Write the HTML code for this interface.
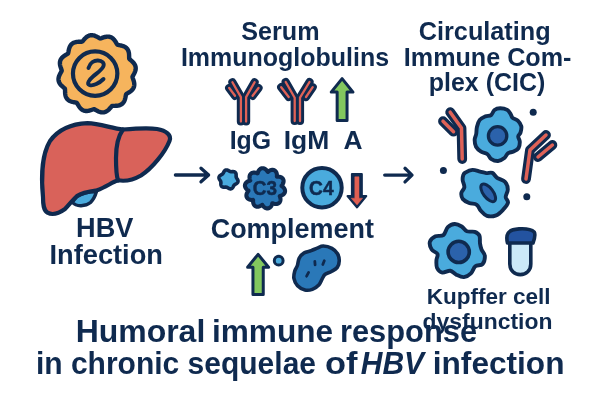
<!DOCTYPE html><html><head><meta charset="utf-8"><style>html,body{margin:0;padding:0;background:#fff;width:600px;height:400px;overflow:hidden}svg{display:block;will-change:transform}text{font-family:"Liberation Sans",sans-serif;font-weight:bold}</style></head><body>
<svg width="600" height="400" viewBox="0 0 600 400">
<rect width="600" height="400" fill="#fff"/>
<path d="M134.06,73.8 L133.71,74.44 L133.36,75.07 L133.02,75.68 L132.7,76.29 L132.46,76.89 L132.6,77.53 L132.8,78.18 L133.03,78.85 L133.27,79.53 L133.5,80.22 L133.72,80.92 L133.91,81.62 L134.07,82.34 L134.2,83.05 L134.27,83.76 L134.3,84.47 L134.27,85.17 L134.19,85.85 L134.05,86.52 L133.84,87.17 L133.58,87.8 L133.26,88.41 L132.88,88.99 L132.45,89.54 L131.98,90.06 L131.46,90.56 L130.91,91.03 L130.33,91.47 L129.73,91.89 L129.11,92.28 L128.49,92.66 L127.87,93.03 L127.26,93.39 L126.69,93.76 L126.18,94.16 L125.97,94.78 L125.82,95.45 L125.69,96.14 L125.56,96.84 L125.41,97.56 L125.25,98.27 L125.07,98.98 L124.85,99.68 L124.6,100.36 L124.31,101.01 L123.98,101.64 L123.61,102.23 L123.19,102.78 L122.74,103.29 L122.23,103.75 L121.69,104.17 L121.11,104.53 L120.49,104.85 L119.85,105.11 L119.17,105.33 L118.48,105.5 L117.77,105.63 L117.04,105.72 L116.31,105.78 L115.58,105.81 L114.85,105.83 L114.13,105.84 L113.43,105.85 L112.75,105.88 L112.1,105.97 L111.62,106.41 L111.15,106.91 L110.69,107.44 L110.22,107.99 L109.74,108.53 L109.25,109.07 L108.73,109.59 L108.19,110.09 L107.64,110.55 L107.06,110.97 L106.46,111.35 L105.84,111.68 L105.21,111.95 L104.56,112.16 L103.89,112.31 L103.21,112.39 L102.53,112.42 L101.84,112.38 L101.15,112.29 L100.45,112.14 L99.77,111.94 L99.09,111.7 L98.41,111.41 L97.75,111.1 L97.1,110.76 L96.46,110.41 L95.83,110.06 L95.22,109.72 L94.61,109.4 L94.01,109.16 L93.37,109.3 L92.72,109.5 L92.05,109.73 L91.37,109.97 L90.68,110.2 L89.98,110.42 L89.28,110.61 L88.56,110.77 L87.85,110.9 L87.14,110.97 L86.43,111 L85.73,110.97 L85.05,110.89 L84.38,110.75 L83.73,110.54 L83.1,110.28 L82.49,109.96 L81.91,109.58 L81.36,109.15 L80.84,108.68 L80.34,108.16 L79.87,107.61 L79.43,107.03 L79.01,106.43 L78.62,105.81 L78.24,105.19 L77.87,104.57 L77.51,103.96 L77.14,103.39 L76.74,102.88 L76.12,102.67 L75.45,102.52 L74.76,102.39 L74.06,102.26 L73.34,102.11 L72.63,101.95 L71.92,101.77 L71.22,101.55 L70.54,101.3 L69.89,101.01 L69.26,100.68 L68.67,100.31 L68.12,99.89 L67.61,99.44 L67.15,98.93 L66.73,98.39 L66.37,97.81 L66.05,97.19 L65.79,96.55 L65.57,95.87 L65.4,95.18 L65.27,94.47 L65.18,93.74 L65.12,93.01 L65.09,92.28 L65.07,91.55 L65.06,90.83 L65.05,90.13 L65.02,89.45 L64.93,88.8 L64.49,88.32 L63.99,87.85 L63.46,87.39 L62.91,86.92 L62.37,86.44 L61.83,85.95 L61.31,85.43 L60.81,84.89 L60.35,84.34 L59.93,83.76 L59.55,83.16 L59.22,82.54 L58.95,81.91 L58.74,81.26 L58.59,80.59 L58.51,79.91 L58.48,79.23 L58.52,78.54 L58.61,77.85 L58.76,77.15 L58.96,76.47 L59.2,75.79 L59.49,75.11 L59.8,74.45 L60.14,73.8 L60.49,73.16 L60.84,72.53 L61.18,71.92 L61.5,71.31 L61.74,70.71 L61.6,70.07 L61.4,69.42 L61.17,68.75 L60.93,68.07 L60.7,67.38 L60.48,66.68 L60.29,65.98 L60.13,65.26 L60,64.55 L59.93,63.84 L59.9,63.13 L59.93,62.43 L60.01,61.75 L60.15,61.08 L60.36,60.43 L60.62,59.8 L60.94,59.19 L61.32,58.61 L61.75,58.06 L62.22,57.54 L62.74,57.04 L63.29,56.57 L63.87,56.13 L64.47,55.71 L65.09,55.32 L65.71,54.94 L66.33,54.57 L66.94,54.21 L67.51,53.84 L68.02,53.44 L68.23,52.82 L68.38,52.15 L68.51,51.46 L68.64,50.76 L68.79,50.04 L68.95,49.33 L69.13,48.62 L69.35,47.92 L69.6,47.24 L69.89,46.59 L70.22,45.96 L70.59,45.37 L71.01,44.82 L71.46,44.31 L71.97,43.85 L72.51,43.43 L73.09,43.07 L73.71,42.75 L74.35,42.49 L75.03,42.27 L75.72,42.1 L76.43,41.97 L77.16,41.88 L77.89,41.82 L78.62,41.79 L79.35,41.77 L80.07,41.76 L80.77,41.75 L81.45,41.72 L82.1,41.63 L82.58,41.19 L83.05,40.69 L83.51,40.16 L83.98,39.61 L84.46,39.07 L84.95,38.53 L85.47,38.01 L86.01,37.51 L86.56,37.05 L87.14,36.63 L87.74,36.25 L88.36,35.92 L88.99,35.65 L89.64,35.44 L90.31,35.29 L90.99,35.21 L91.67,35.18 L92.36,35.22 L93.05,35.31 L93.75,35.46 L94.43,35.66 L95.11,35.9 L95.79,36.19 L96.45,36.5 L97.1,36.84 L97.74,37.19 L98.37,37.54 L98.98,37.88 L99.59,38.2 L100.19,38.44 L100.83,38.3 L101.48,38.1 L102.15,37.87 L102.83,37.63 L103.52,37.4 L104.22,37.18 L104.92,36.99 L105.64,36.83 L106.35,36.7 L107.06,36.63 L107.77,36.6 L108.47,36.63 L109.15,36.71 L109.82,36.85 L110.47,37.06 L111.1,37.32 L111.71,37.64 L112.29,38.02 L112.84,38.45 L113.36,38.92 L113.86,39.44 L114.33,39.99 L114.77,40.57 L115.19,41.17 L115.58,41.79 L115.96,42.41 L116.33,43.03 L116.69,43.64 L117.06,44.21 L117.46,44.72 L118.08,44.93 L118.75,45.08 L119.44,45.21 L120.14,45.34 L120.86,45.49 L121.57,45.65 L122.28,45.83 L122.98,46.05 L123.66,46.3 L124.31,46.59 L124.94,46.92 L125.53,47.29 L126.08,47.71 L126.59,48.16 L127.05,48.67 L127.47,49.21 L127.83,49.79 L128.15,50.41 L128.41,51.05 L128.63,51.73 L128.8,52.42 L128.93,53.13 L129.02,53.86 L129.08,54.59 L129.11,55.32 L129.13,56.05 L129.14,56.77 L129.15,57.47 L129.18,58.15 L129.27,58.8 L129.71,59.28 L130.21,59.75 L130.74,60.21 L131.29,60.68 L131.83,61.16 L132.37,61.65 L132.89,62.17 L133.39,62.71 L133.85,63.26 L134.27,63.84 L134.65,64.44 L134.98,65.06 L135.25,65.69 L135.46,66.34 L135.61,67.01 L135.69,67.69 L135.72,68.37 L135.68,69.06 L135.59,69.75 L135.44,70.45 L135.24,71.13 L135,71.81 L134.71,72.49 L134.4,73.15Z" fill="#f6b45d" stroke="#0f2a4f" stroke-width="4.4" stroke-linejoin="round"/>
<circle cx="95.15" cy="73.6" r="22.2" fill="none" stroke="#0f2a4f" stroke-width="4.2"/>
<path d="M88.5,68 C90,62.5 94.5,60.3 98,60.5 C102,60.7 104.5,63 103.5,66 C102.5,69.5 97,73 93,76.5 C89,80 86.5,83.5 89.5,85 C93,86.5 99.5,83 103.5,79" fill="none" stroke="#0f2a4f" stroke-width="3.9" stroke-linecap="round" stroke-linejoin="round"/>
<path d="M72.5,202.5 C76,206.5 85,207 90.5,202.5 C93.5,199.5 95.5,195 96.5,191.5 C90,191.5 82,193 77,196.5 C75,198.5 73.5,200.5 72.5,202.5Z" fill="#4aabdd" stroke="#0f2a4f" stroke-width="3.4" stroke-linejoin="round"/>
<path d="M87.5,123.2 C100,123.5 112,128.5 123,129.5 C135,128.5 148,127.5 157,129 C166,130.5 172,135 169.5,141 C165,152.5 152,168.5 141,175.5 C134,179.5 125,181.5 118,180.3 C112,182.3 106,187 97,190.3 C90,191.3 82,192.5 77,196 C73,199.5 70,204 65,209 C59,213.3 52,215.2 47.5,212.7 C43.5,210.2 43,204.5 43,197 C41.5,182 41,156 50,141 C58,130 70,124 87.5,123.2Z" fill="#d9625a" stroke="#0f2a4f" stroke-width="4.2" stroke-linejoin="round"/>
<path d="M123,129.5 C117.5,137 116,147 116,158 C116,168 116.5,176 118,180.5" fill="none" stroke="#0f2a4f" stroke-width="4.2" stroke-linecap="round"/>
<path d="M175.4,175 H208.6 M201,168.2 L208.6,175 L201,181.8" fill="none" stroke="#0f2a4f" stroke-width="3.3" stroke-linecap="round" stroke-linejoin="round"/>
<path d="M384.7,175.1 H412 M405,168.3 L412,175.1 L405,181.9" fill="none" stroke="#0f2a4f" stroke-width="3.3" stroke-linecap="round" stroke-linejoin="round"/>
<polyline points="240.9,121.5 240.9,97.1 232.4,82.2" fill="none" stroke="#0f2a4f" stroke-width="8.2" stroke-linecap="round" stroke-linejoin="round"/><polyline points="246.1,121.5 246.1,97.1 254.6,82.2" fill="none" stroke="#0f2a4f" stroke-width="8.2" stroke-linecap="round" stroke-linejoin="round"/><polyline points="229.2,88 235,95.8" fill="none" stroke="#0f2a4f" stroke-width="8.2" stroke-linecap="round" stroke-linejoin="round"/><polyline points="258.5,88 252.6,95.8" fill="none" stroke="#0f2a4f" stroke-width="8.2" stroke-linecap="round" stroke-linejoin="round"/><polyline points="240.9,121.5 240.9,97.1 232.4,82.2" fill="none" stroke="#df6257" stroke-width="2.3" stroke-linecap="round" stroke-linejoin="round"/><polyline points="246.1,121.5 246.1,97.1 254.6,82.2" fill="none" stroke="#df6257" stroke-width="2.3" stroke-linecap="round" stroke-linejoin="round"/><polyline points="229.2,88 235,95.8" fill="none" stroke="#df6257" stroke-width="2.3" stroke-linecap="round" stroke-linejoin="round"/><polyline points="258.5,88 252.6,95.8" fill="none" stroke="#df6257" stroke-width="2.3" stroke-linecap="round" stroke-linejoin="round"/>
<polyline points="294.7,121 294.7,97.7 285.7,82" fill="none" stroke="#0f2a4f" stroke-width="8.2" stroke-linecap="round" stroke-linejoin="round"/><polyline points="300,121 300,97.7 309.5,82" fill="none" stroke="#0f2a4f" stroke-width="8.2" stroke-linecap="round" stroke-linejoin="round"/><polyline points="281.2,87.2 288.7,97" fill="none" stroke="#0f2a4f" stroke-width="8.2" stroke-linecap="round" stroke-linejoin="round"/><polyline points="312.7,87.2 306,97" fill="none" stroke="#0f2a4f" stroke-width="8.2" stroke-linecap="round" stroke-linejoin="round"/><polyline points="294.7,121 294.7,97.7 285.7,82" fill="none" stroke="#df6257" stroke-width="2.3" stroke-linecap="round" stroke-linejoin="round"/><polyline points="300,121 300,97.7 309.5,82" fill="none" stroke="#df6257" stroke-width="2.3" stroke-linecap="round" stroke-linejoin="round"/><polyline points="281.2,87.2 288.7,97" fill="none" stroke="#df6257" stroke-width="2.3" stroke-linecap="round" stroke-linejoin="round"/><polyline points="312.7,87.2 306,97" fill="none" stroke="#df6257" stroke-width="2.3" stroke-linecap="round" stroke-linejoin="round"/>
<polyline points="450.2,112.2 461.5,128 462.2,159" fill="none" stroke="#0f2a4f" stroke-width="9.8" stroke-linecap="round" stroke-linejoin="round"/><polyline points="443,121.2 453.5,131.7" fill="none" stroke="#0f2a4f" stroke-width="9.8" stroke-linecap="round" stroke-linejoin="round"/><polyline points="450.2,112.2 461.5,128 462.2,159" fill="none" stroke="#df6257" stroke-width="3.5" stroke-linecap="round" stroke-linejoin="round"/><polyline points="443,121.2 453.5,131.7" fill="none" stroke="#df6257" stroke-width="3.5" stroke-linecap="round" stroke-linejoin="round"/>
<polyline points="546,135 530,150 526,179" fill="none" stroke="#0f2a4f" stroke-width="9.8" stroke-linecap="round" stroke-linejoin="round"/><polyline points="552.4,145 538,157" fill="none" stroke="#0f2a4f" stroke-width="9.8" stroke-linecap="round" stroke-linejoin="round"/><polyline points="546,135 530,150 526,179" fill="none" stroke="#df6257" stroke-width="3.5" stroke-linecap="round" stroke-linejoin="round"/><polyline points="552.4,145 538,157" fill="none" stroke="#df6257" stroke-width="3.5" stroke-linecap="round" stroke-linejoin="round"/>
<path d="M342.1,78.6 L353,92.1 L347.05,92.1 L347.05,120.4 L337.15,120.4 L337.15,92.1 L331.2,92.1Z" fill="#82c75e" stroke="#0f2a4f" stroke-width="3" stroke-linejoin="round"/>
<path d="M258.1,254.4 L268.6,267.3 L263.25,267.3 L263.25,294.6 L252.95,294.6 L252.95,267.3 L247.6,267.3Z" fill="#82c75e" stroke="#0f2a4f" stroke-width="3" stroke-linejoin="round"/>
<path d="M352,174 L361.75,174 L361.75,196 L366.2,196 L357,207.4 L347.6,196 L352,196 Z" fill="#0f2a4f" stroke="#0f2a4f" stroke-width="2.2" stroke-linejoin="round"/>
<path d="M354.8,176.8 L359,176.8 L359,198.2 L362.6,198.2 L357.05,204.9 L351.2,198.2 L354.8,198.2 Z" fill="#df5f52" stroke="#df5f52" stroke-width="0.5" stroke-linejoin="round"/>
<path d="M237.49,179.4 L237.66,179.72 L237.8,180.05 L237.92,180.39 L237.99,180.73 L238.03,181.08 L238.02,181.42 L237.96,181.76 L237.85,182.08 L237.7,182.39 L237.51,182.68 L237.28,182.95 L237.02,183.19 L236.74,183.42 L236.44,183.62 L236.13,183.81 L235.82,183.98 L235.53,184.14 L235.24,184.3 L234.97,184.46 L234.72,184.62 L234.5,184.8 L234.29,184.99 L234.1,185.2 L233.94,185.44 L233.78,185.69 L233.63,185.97 L233.48,186.26 L233.33,186.56 L233.17,186.87 L232.99,187.18 L232.8,187.49 L232.59,187.78 L232.35,188.05 L232.09,188.29 L231.81,188.49 L231.51,188.66 L231.19,188.77 L230.85,188.84 L230.51,188.87 L230.16,188.84 L229.82,188.78 L229.47,188.67 L229.14,188.54 L228.81,188.38 L228.5,188.21 L228.2,188.03 L227.91,187.85 L227.63,187.69 L227.36,187.53 L227.09,187.4 L226.82,187.29 L226.55,187.21 L226.28,187.16 L225.99,187.13 L225.69,187.12 L225.38,187.12 L225.05,187.14 L224.71,187.16 L224.36,187.18 L224.01,187.18 L223.64,187.17 L223.29,187.13 L222.93,187.06 L222.6,186.96 L222.28,186.81 L221.99,186.63 L221.73,186.41 L221.5,186.16 L221.31,185.87 L221.16,185.56 L221.04,185.23 L220.96,184.88 L220.9,184.52 L220.88,184.16 L220.87,183.81 L220.87,183.45 L220.88,183.12 L220.89,182.79 L220.89,182.48 L220.87,182.18 L220.83,181.89 L220.76,181.62 L220.67,181.35 L220.55,181.09 L220.41,180.83 L220.25,180.56 L220.07,180.29 L219.88,180 L219.69,179.71 L219.51,179.4 L219.34,179.08 L219.2,178.75 L219.08,178.41 L219.01,178.07 L218.97,177.72 L218.98,177.38 L219.04,177.04 L219.15,176.72 L219.3,176.41 L219.49,176.12 L219.72,175.85 L219.98,175.61 L220.26,175.38 L220.56,175.18 L220.87,174.99 L221.18,174.82 L221.47,174.66 L221.76,174.5 L222.03,174.34 L222.28,174.18 L222.5,174 L222.71,173.81 L222.9,173.6 L223.06,173.36 L223.22,173.11 L223.37,172.83 L223.52,172.54 L223.67,172.24 L223.83,171.93 L224.01,171.62 L224.2,171.31 L224.41,171.02 L224.65,170.75 L224.91,170.51 L225.19,170.31 L225.49,170.14 L225.81,170.03 L226.15,169.96 L226.49,169.93 L226.84,169.96 L227.18,170.02 L227.53,170.13 L227.86,170.26 L228.19,170.42 L228.5,170.59 L228.8,170.77 L229.09,170.95 L229.37,171.11 L229.64,171.27 L229.91,171.4 L230.18,171.51 L230.45,171.59 L230.72,171.64 L231.01,171.67 L231.31,171.68 L231.62,171.68 L231.95,171.66 L232.29,171.64 L232.64,171.62 L232.99,171.62 L233.36,171.63 L233.71,171.67 L234.07,171.74 L234.4,171.84 L234.72,171.99 L235.01,172.17 L235.27,172.39 L235.5,172.64 L235.69,172.93 L235.84,173.24 L235.96,173.57 L236.04,173.92 L236.1,174.28 L236.12,174.64 L236.13,174.99 L236.13,175.35 L236.12,175.68 L236.11,176.01 L236.11,176.32 L236.13,176.62 L236.17,176.91 L236.24,177.18 L236.33,177.45 L236.45,177.71 L236.59,177.97 L236.75,178.24 L236.93,178.51 L237.12,178.8 L237.31,179.09Z" fill="#4aabdd" stroke="#0f2a4f" stroke-width="3.6" stroke-linejoin="round"/>
<path d="M284.15,188.3 L284.36,188.64 L284.55,188.98 L284.72,189.33 L284.85,189.69 L284.95,190.05 L285.02,190.4 L285.06,190.76 L285.07,191.12 L285.05,191.47 L284.99,191.82 L284.9,192.17 L284.78,192.51 L284.63,192.83 L284.45,193.15 L284.25,193.46 L284.01,193.75 L283.75,194.03 L283.46,194.3 L283.15,194.55 L282.81,194.78 L282.46,195 L282.08,195.2 L281.69,195.38 L281.28,195.55 L280.85,195.69 L280.41,195.82 L279.94,195.91 L279.73,196.13 L279.93,196.58 L280.09,197.01 L280.22,197.45 L280.32,197.88 L280.4,198.3 L280.46,198.73 L280.49,199.14 L280.49,199.55 L280.47,199.96 L280.42,200.35 L280.34,200.72 L280.24,201.09 L280.11,201.44 L279.96,201.77 L279.78,202.08 L279.58,202.38 L279.35,202.65 L279.1,202.9 L278.83,203.13 L278.53,203.33 L278.22,203.51 L277.89,203.66 L277.54,203.78 L277.18,203.88 L276.8,203.96 L276.41,204 L276.01,204.02 L275.6,204.02 L275.18,203.98 L274.76,203.92 L274.34,203.84 L273.91,203.73 L273.48,203.6 L273.05,203.44 L272.61,203.24 L272.31,203.3 L272.21,203.77 L272.09,204.22 L271.94,204.64 L271.77,205.05 L271.58,205.45 L271.38,205.82 L271.16,206.18 L270.92,206.51 L270.66,206.82 L270.39,207.11 L270.11,207.37 L269.81,207.61 L269.51,207.81 L269.19,207.99 L268.86,208.14 L268.52,208.26 L268.17,208.35 L267.82,208.4 L267.47,208.42 L267.11,208.41 L266.76,208.37 L266.4,208.3 L266.04,208.2 L265.69,208.06 L265.34,207.9 L265,207.71 L264.67,207.49 L264.34,207.24 L264.02,206.97 L263.71,206.68 L263.42,206.36 L263.14,206.02 L262.87,205.66 L262.61,205.28 L262.38,204.86 L262.1,204.73 L261.74,205.06 L261.38,205.34 L261.01,205.6 L260.63,205.83 L260.25,206.04 L259.86,206.22 L259.47,206.38 L259.08,206.51 L258.69,206.61 L258.31,206.69 L257.92,206.73 L257.55,206.75 L257.17,206.73 L256.81,206.69 L256.46,206.62 L256.12,206.52 L255.79,206.38 L255.47,206.22 L255.17,206.03 L254.89,205.82 L254.62,205.57 L254.38,205.3 L254.15,205.01 L253.94,204.7 L253.76,204.36 L253.59,204 L253.45,203.63 L253.33,203.24 L253.23,202.83 L253.16,202.41 L253.1,201.98 L253.08,201.54 L253.07,201.09 L253.09,200.63 L253.14,200.16 L253,199.89 L252.51,199.94 L252.05,199.96 L251.6,199.95 L251.16,199.92 L250.73,199.86 L250.31,199.78 L249.9,199.68 L249.51,199.55 L249.14,199.41 L248.78,199.24 L248.44,199.05 L248.13,198.84 L247.83,198.61 L247.57,198.37 L247.32,198.1 L247.11,197.81 L246.92,197.51 L246.76,197.2 L246.63,196.87 L246.52,196.53 L246.45,196.17 L246.41,195.81 L246.4,195.44 L246.42,195.06 L246.46,194.68 L246.54,194.3 L246.65,193.91 L246.78,193.52 L246.94,193.14 L247.12,192.76 L247.33,192.38 L247.57,192.01 L247.83,191.64 L248.12,191.28 L248.44,190.92 L248.48,190.62 L248.06,190.38 L247.67,190.12 L247.31,189.85 L246.97,189.56 L246.66,189.26 L246.37,188.95 L246.1,188.63 L245.85,188.3 L245.64,187.96 L245.45,187.62 L245.28,187.27 L245.15,186.91 L245.05,186.55 L244.98,186.2 L244.94,185.84 L244.93,185.48 L244.95,185.13 L245.01,184.78 L245.1,184.43 L245.22,184.09 L245.37,183.77 L245.55,183.45 L245.75,183.14 L245.99,182.85 L246.25,182.57 L246.54,182.3 L246.85,182.05 L247.19,181.82 L247.54,181.6 L247.92,181.4 L248.31,181.22 L248.72,181.05 L249.15,180.91 L249.59,180.78 L250.06,180.69 L250.27,180.47 L250.07,180.02 L249.91,179.59 L249.78,179.15 L249.68,178.72 L249.6,178.3 L249.54,177.87 L249.51,177.46 L249.51,177.05 L249.53,176.64 L249.58,176.25 L249.66,175.88 L249.76,175.51 L249.89,175.16 L250.04,174.83 L250.22,174.52 L250.42,174.22 L250.65,173.95 L250.9,173.7 L251.17,173.47 L251.47,173.27 L251.78,173.09 L252.11,172.94 L252.46,172.82 L252.82,172.72 L253.2,172.64 L253.59,172.6 L253.99,172.58 L254.4,172.58 L254.82,172.62 L255.24,172.68 L255.66,172.76 L256.09,172.87 L256.52,173 L256.95,173.16 L257.39,173.36 L257.69,173.3 L257.79,172.83 L257.91,172.38 L258.06,171.96 L258.23,171.55 L258.42,171.15 L258.62,170.78 L258.84,170.42 L259.08,170.09 L259.34,169.78 L259.61,169.49 L259.89,169.23 L260.19,168.99 L260.49,168.79 L260.81,168.61 L261.14,168.46 L261.48,168.34 L261.83,168.25 L262.18,168.2 L262.53,168.18 L262.89,168.19 L263.24,168.23 L263.6,168.3 L263.96,168.4 L264.31,168.54 L264.66,168.7 L265,168.89 L265.33,169.11 L265.66,169.36 L265.98,169.63 L266.29,169.92 L266.58,170.24 L266.86,170.58 L267.13,170.94 L267.39,171.32 L267.62,171.74 L267.9,171.87 L268.26,171.54 L268.62,171.26 L268.99,171 L269.37,170.77 L269.75,170.56 L270.14,170.38 L270.53,170.22 L270.92,170.09 L271.31,169.99 L271.69,169.91 L272.08,169.87 L272.45,169.85 L272.83,169.87 L273.19,169.91 L273.54,169.98 L273.88,170.08 L274.21,170.22 L274.53,170.38 L274.83,170.57 L275.11,170.78 L275.38,171.03 L275.62,171.3 L275.85,171.59 L276.06,171.9 L276.24,172.24 L276.41,172.6 L276.55,172.97 L276.67,173.36 L276.77,173.77 L276.84,174.19 L276.9,174.62 L276.92,175.06 L276.93,175.51 L276.91,175.97 L276.86,176.44 L277,176.71 L277.49,176.66 L277.95,176.64 L278.4,176.65 L278.84,176.68 L279.27,176.74 L279.69,176.82 L280.1,176.92 L280.49,177.05 L280.86,177.19 L281.22,177.36 L281.56,177.55 L281.87,177.76 L282.17,177.99 L282.43,178.23 L282.68,178.5 L282.89,178.79 L283.08,179.09 L283.24,179.4 L283.37,179.73 L283.48,180.07 L283.55,180.43 L283.59,180.79 L283.6,181.16 L283.58,181.54 L283.54,181.92 L283.46,182.3 L283.35,182.69 L283.22,183.08 L283.06,183.46 L282.88,183.84 L282.67,184.22 L282.43,184.59 L282.17,184.96 L281.88,185.32 L281.56,185.68 L281.52,185.98 L281.94,186.22 L282.33,186.48 L282.69,186.75 L283.03,187.04 L283.34,187.34 L283.63,187.65 L283.9,187.97Z" fill="#2a78b8" stroke="#0f2a4f" stroke-width="4.1" stroke-linejoin="round"/>
<circle cx="322" cy="187.7" r="19.7" fill="#4aabdd" stroke="#0f2a4f" stroke-width="4"/>
<circle cx="278.7" cy="260.7" r="4.4" fill="#4aabdd" stroke="#0f2a4f" stroke-width="3"/>
<path d="M323.3,246.01 C325.75,246.05 329.55,247.04 331.92,248.34 C334.29,249.63 336.3,251.74 337.52,253.79 C338.74,255.83 339.29,258.34 339.25,260.6 C339.22,262.87 338.6,265.57 337.3,267.38 C336,269.2 333.47,270.35 331.46,271.5 C329.44,272.65 326.71,273.14 325.21,274.29 C323.7,275.44 323.47,276.67 322.44,278.41 C321.41,280.15 320.71,282.91 319.03,284.72 C317.35,286.54 314.68,288.43 312.33,289.32 C309.98,290.2 307.41,290.63 304.94,290.04 C302.48,289.46 299.38,287.77 297.55,285.83 C295.71,283.89 294.4,280.88 293.93,278.41 C293.47,275.95 294.2,273.17 294.77,271.03 C295.35,268.88 296.67,267.65 297.39,265.53 C298.12,263.41 298.03,260.4 299.13,258.3 C300.22,256.21 301.95,254.23 303.96,252.95 C305.97,251.67 309,251.45 311.2,250.64 C313.41,249.84 315.18,248.87 317.19,248.1 C319.21,247.32 320.84,245.97 323.3,246.01Z" fill="#2a78b8" stroke="#0f2a4f" stroke-width="3.6" stroke-linejoin="round"/>
<path d="M314.8,261.3 L315.1,264.9 M324.3,260.7 L322.8,264.5 M308.6,272.4 L306.6,276.2" stroke="#0f2a4f" stroke-width="2.8" stroke-linecap="round"/>
<path d="M500.16,108.2 C502.28,108.19 505.47,108.91 507.24,109.93 C509.01,110.94 509.87,112.98 510.76,114.3 C511.64,115.63 511.38,116.82 512.56,117.87 C513.73,118.91 516.34,119.2 517.79,120.59 C519.25,121.98 520.84,124.21 521.29,126.21 C521.74,128.21 521.02,130.89 520.5,132.61 C519.99,134.32 518.33,135 518.21,136.51 C518.09,138.02 519.75,139.74 519.79,141.68 C519.84,143.61 519.53,146.47 518.49,148.11 C517.45,149.75 515.32,150.67 513.56,151.53 C511.79,152.4 509.42,152.24 507.9,153.33 C506.37,154.41 506.03,156.75 504.4,158.03 C502.76,159.31 500.31,160.88 498.08,161 C495.84,161.13 492.75,159.91 490.99,158.78 C489.22,157.65 489.12,155.4 487.47,154.21 C485.82,153.02 482.99,152.9 481.08,151.66 C479.18,150.43 477.09,148.78 476.02,146.79 C474.95,144.79 474.63,141.8 474.66,139.67 C474.69,137.54 475.82,136.13 476.2,134.01 C476.58,131.89 476.34,129.31 476.93,126.95 C477.52,124.6 478.3,121.64 479.72,119.88 C481.13,118.12 483.53,117.18 485.43,116.38 C487.33,115.58 489.59,116.14 491.1,115.07 C492.61,114.01 492.99,111.12 494.5,109.97 C496.01,108.82 498.04,108.21 500.16,108.2Z" fill="#4aabdd" stroke="#0f2a4f" stroke-width="3.9" stroke-linejoin="round"/>
<circle cx="497.6" cy="135.9" r="9.2" fill="#2b62ab" stroke="#0f2a4f" stroke-width="3.3"/>
<path d="M465.34,172.55 C466.86,171.64 469.93,170.05 472.38,169.89 C474.82,169.72 477.71,171.04 480.01,171.57 C482.31,172.11 484.12,172.85 486.17,173.07 C488.23,173.29 490.5,172.1 492.32,172.89 C494.14,173.67 494.99,176.31 497.1,177.78 C499.2,179.25 503.15,179.79 504.94,181.71 C506.72,183.63 507.68,186.75 507.8,189.3 C507.92,191.84 505.64,194.75 505.67,196.98 C505.7,199.21 508.42,200.55 507.99,202.67 C507.57,204.79 505.11,207.58 503.13,209.69 C501.15,211.79 498.82,214.3 496.12,215.32 C493.42,216.34 489.48,216.61 486.92,215.82 C484.35,215.04 482.42,212.46 480.73,210.61 C479.03,208.77 478.71,206.04 476.77,204.77 C474.84,203.49 471.46,203.91 469.12,202.94 C466.79,201.98 464.04,200.66 462.76,198.97 C461.47,197.28 461.12,194.75 461.39,192.8 C461.66,190.86 464.15,189.4 464.37,187.32 C464.59,185.25 462.89,182.34 462.7,180.35 C462.51,178.35 462.77,176.65 463.21,175.35 C463.65,174.05 463.81,173.46 465.34,172.55Z" fill="#4aabdd" stroke="#0f2a4f" stroke-width="3.9" stroke-linejoin="round"/>
<ellipse cx="488.2" cy="192.8" rx="10.4" ry="4.9" transform="rotate(53 488.2 192.8)" fill="#2b62ab" stroke="#0f2a4f" stroke-width="3"/>
<path d="M454.7,223.99 C457.01,223.88 459.65,225.25 461.68,226.47 C463.71,227.69 464.71,230.43 466.88,231.31 C469.06,232.2 472.63,231.1 474.73,231.81 C476.82,232.52 478.56,233.65 479.44,235.59 C480.32,237.52 479.65,241.08 480,243.4 C480.34,245.72 480.7,247.46 481.5,249.5 C482.31,251.55 484.66,253.23 484.83,255.67 C485,258.1 484.1,262.34 482.52,264.11 C480.95,265.87 477.3,264.71 475.37,266.25 C473.43,267.8 472.83,271.55 470.93,273.36 C469.03,275.18 466.39,276.93 463.95,277.15 C461.52,277.38 458.58,275.78 456.3,274.7 C454.02,273.63 452.57,271.08 450.26,270.72 C447.94,270.36 444.59,273 442.39,272.54 C440.19,272.09 438.05,270.05 437.06,267.98 C436.07,265.91 436.37,262.46 436.44,260.13 C436.51,257.8 438.27,255.77 437.48,254 C436.69,252.23 432.96,251.55 431.7,249.5 C430.44,247.44 429.27,243.89 429.9,241.69 C430.54,239.5 433.24,237.44 435.49,236.34 C437.73,235.24 441.32,236.64 443.38,235.11 C445.43,233.58 445.94,229.01 447.82,227.16 C449.71,225.3 452.39,224.1 454.7,223.99Z" fill="#4aabdd" stroke="#0f2a4f" stroke-width="3.9" stroke-linejoin="round"/>
<circle cx="458.7" cy="251.9" r="10.6" fill="#2b62ab" stroke="#0f2a4f" stroke-width="3.6"/>
<circle cx="443.4" cy="170.4" r="3.5" fill="#0f2a4f"/>
<circle cx="533.2" cy="112.3" r="3.5" fill="#0f2a4f"/>
<circle cx="526.8" cy="196.8" r="3.5" fill="#0f2a4f"/>
<path d="M509.8,242 L509.8,264 C509.8,270.5 514.5,274.6 520.3,274.6 C526.1,274.6 530.8,270.5 530.8,264 L530.8,242 Z" fill="#cbe9f8" stroke="#0f2a4f" stroke-width="3.6" stroke-linejoin="round"/>
<path d="M507.5,243 L533,243 C534.5,239 536,235 534.2,232 C531,229 524,228.6 519,228.9 C514,229.2 510,230.5 508.2,233 C506.5,235.5 506.5,239 507.5,243 Z" fill="#2353a0" stroke="#0f2a4f" stroke-width="3.6" stroke-linejoin="round"/>
<text x="241.27" y="40.4" font-size="25.3" textLength="78.3" lengthAdjust="spacingAndGlyphs" fill="#0f2a4f">Serum</text>
<text x="180.93" y="65.7" font-size="25.3" textLength="208.11" lengthAdjust="spacingAndGlyphs" fill="#0f2a4f">Immunoglobulins</text>
<text x="229.64" y="149.3" font-size="25.8" textLength="41.39" lengthAdjust="spacingAndGlyphs" fill="#0f2a4f">IgG</text>
<text x="283.73" y="149.3" font-size="25.8" textLength="45.54" lengthAdjust="spacingAndGlyphs" fill="#0f2a4f">IgM</text>
<text x="343.64" y="149.1" font-size="25.6" textLength="19.05" lengthAdjust="spacingAndGlyphs" fill="#0f2a4f">A</text>
<text x="210.69" y="237.5" font-size="27.2" textLength="163.23" lengthAdjust="spacingAndGlyphs" fill="#0f2a4f">Complement</text>
<text x="76.08" y="237.3" font-size="27.8" textLength="57.32" lengthAdjust="spacingAndGlyphs" fill="#0f2a4f">HBV</text>
<text x="49.47" y="263.6" font-size="27.8" textLength="113.5" lengthAdjust="spacingAndGlyphs" fill="#0f2a4f">Infection</text>
<text x="418.76" y="40" font-size="25" textLength="131.92" lengthAdjust="spacingAndGlyphs" fill="#0f2a4f">Circulating</text>
<text x="403.81" y="65.8" font-size="25" textLength="167.69" lengthAdjust="spacingAndGlyphs" fill="#0f2a4f">Immune Com-</text>
<text x="428.75" y="90.5" font-size="25" textLength="116.5" lengthAdjust="spacingAndGlyphs" fill="#0f2a4f">plex (CIC)</text>
<text x="426.69" y="304" font-size="21.5" textLength="123.91" lengthAdjust="spacingAndGlyphs" fill="#0f2a4f">Kupffer cell</text>
<text x="422.56" y="328.5" font-size="22.5" textLength="129.85" lengthAdjust="spacingAndGlyphs" fill="#0f2a4f">dysfunction</text>
<text x="75.66" y="342" font-size="31.5" textLength="129.61" lengthAdjust="spacingAndGlyphs" fill="#0f2a4f">Humoral</text>
<text x="211.99" y="342" font-size="31.5" textLength="121.08" lengthAdjust="spacingAndGlyphs" fill="#0f2a4f">immune</text>
<text x="339.97" y="342" font-size="31.5" textLength="137.09" lengthAdjust="spacingAndGlyphs" fill="#0f2a4f">response</text>
<text x="35.9" y="374" font-size="31" textLength="280.13" lengthAdjust="spacingAndGlyphs" fill="#0f2a4f">in chronic sequelae</text>
<text x="324.96" y="374" font-size="31" textLength="32.47" lengthAdjust="spacingAndGlyphs" fill="#0f2a4f">of</text>
<text x="360.76" y="374" font-size="31" textLength="63.35" lengthAdjust="spacingAndGlyphs" fill="#0f2a4f"><tspan font-style="italic">HBV</tspan></text>
<text x="432.79" y="374" font-size="31" textLength="131.66" lengthAdjust="spacingAndGlyphs" fill="#0f2a4f">infection</text>
<text x="252.83" y="195" font-size="19.5" textLength="24.16" lengthAdjust="spacingAndGlyphs" fill="#0f2a4f" stroke="#0f2a4f" stroke-width="0.5">C3</text>
<text x="309.11" y="195.2" font-size="19.5" textLength="24.49" lengthAdjust="spacingAndGlyphs" fill="#0f2a4f" stroke="#0f2a4f" stroke-width="0.5">C4</text>
</svg></body></html>
